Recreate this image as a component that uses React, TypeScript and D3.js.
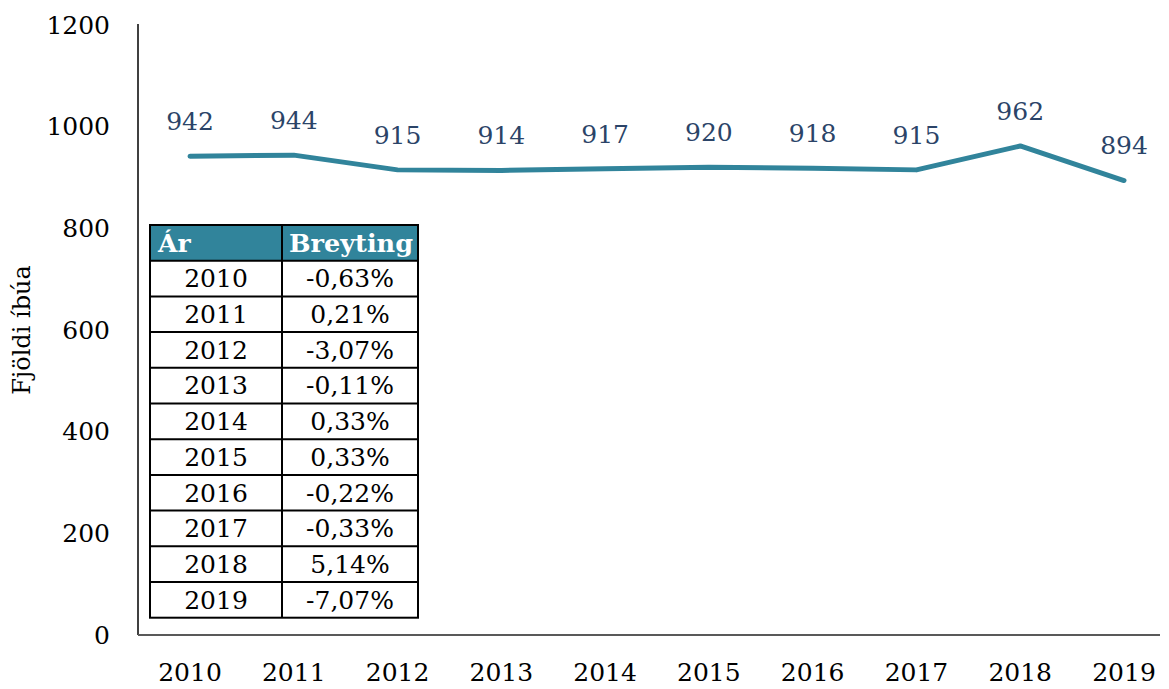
import React from "react";
import * as d3 from "d3";

const years = [2010, 2011, 2012, 2013, 2014, 2015, 2016, 2017, 2018, 2019];
const population = [942, 944, 915, 914, 917, 920, 918, 915, 962, 894];
const changeLabels = ["-0,63%", "0,21%", "-3,07%", "-0,11%", "0,33%", "0,33%", "-0,22%", "-0,33%", "5,14%", "-7,07%"];
const yTicks = [0, 200, 400, 600, 800, 1000, 1200];
const tableHeader = ["Ár", "Breyting"];
const yTitle = "Fjöldi íbúa";

const W = 1169;
const H = 689;
const FONT = "'DejaVu Serif', 'Liberation Serif', serif";
const TEAL = "#31849B";
const NAVY = "#2B4468";
const FS = 25;

export default function App() {
  const x = d3.scalePoint<number>().domain(years).range([190, 1124]);
  const y = d3.scaleLinear().domain([0, 1200]).range([635, 25]);
  const line = d3
    .line<number>()
    .x((_, i) => x(years[i]) as number)
    .y((d) => y(d));

  const tL = 150, tC = 282, tR = 418, tTop = 225, rowH = 35.7;
  const nRows = years.length + 1;
  const tBottom = tTop + rowH * nRows;

  return (
    <svg width={W} height={H} style={{ position: "absolute", left: 0, top: 0, background: "#fff" }} fontFamily={FONT}>
      <rect x={0} y={0} width={W} height={H} fill="#fff" />
      {/* y axis */}
      <line x1={138} x2={138} y1={y(1200) - 1} y2={y(0)} stroke="#000" strokeWidth={1.5} />
      {yTicks.map((t) => (
        <text key={t} x={110} y={y(t)} dy="0.35em" textAnchor="end" fontSize={FS} fill="#000">
          {t}
        </text>
      ))}
      <text transform={`translate(30,${330}) rotate(-90)`} textAnchor="middle" fontSize={24} fill="#000">
        {yTitle}
      </text>
      {/* x axis */}
      <line x1={138} x2={1160} y1={y(0)} y2={y(0)} stroke="#595959" strokeWidth={2} />
      {years.map((yr) => (
        <text key={yr} x={x(yr)} y={672} dy="0.35em" textAnchor="middle" fontSize={FS} fill="#000">
          {yr}
        </text>
      ))}
      {/* line */}
      <path d={line(population) || ""} fill="none" stroke={TEAL} strokeWidth={5} strokeLinecap="round" strokeLinejoin="round" />
      {population.map((v, i) => (
        <text key={i} x={x(years[i])} y={y(v) - 35} dy="0.35em" textAnchor="middle" fontSize={FS} fill={NAVY}>
          {v}
        </text>
      ))}
      {/* table */}
      <rect x={tL} y={tTop} width={tR - tL} height={rowH} fill={TEAL} />
      <rect x={tL} y={tTop} width={tR - tL} height={tBottom - tTop} fill="none" stroke="#000" strokeWidth={2} />
      <line x1={tC} x2={tC} y1={tTop} y2={tBottom} stroke="#000" strokeWidth={2} />
      {d3.range(1, nRows).map((r) => (
        <line key={r} x1={tL} x2={tR} y1={tTop + r * rowH} y2={tTop + r * rowH} stroke="#000" strokeWidth={2} />
      ))}
      <text x={tL + 8} y={tTop + rowH / 2} dy="0.35em" fontSize={FS} fontWeight="bold" fill="#fff">
        {tableHeader[0]}
      </text>
      <text x={tC + 7} y={tTop + rowH / 2} dy="0.35em" fontSize={FS} fontWeight="bold" fill="#fff" textLength={124} lengthAdjust="spacingAndGlyphs">
        {tableHeader[1]}
      </text>
      {years.map((yr, i) => (
        <g key={yr}>
          <text x={(tL + tC) / 2} y={tTop + rowH * (i + 1.5)} dy="0.35em" textAnchor="middle" fontSize={FS} fill="#000">
            {yr}
          </text>
          <text x={(tC + tR) / 2} y={tTop + rowH * (i + 1.5)} dy="0.35em" textAnchor="middle" fontSize={FS} fill="#000">
            {changeLabels[i]}
          </text>
        </g>
      ))}
    </svg>
  );
}
